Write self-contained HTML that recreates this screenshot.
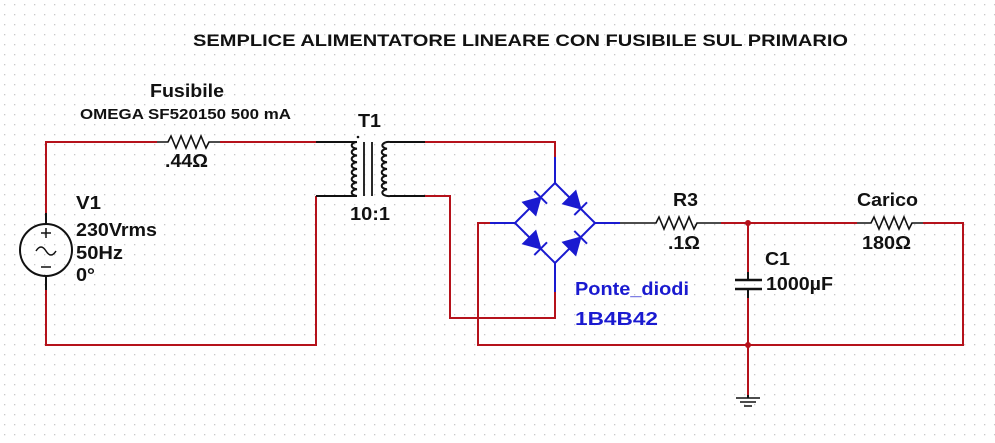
<!DOCTYPE html>
<html><head><meta charset="utf-8"><style>
html,body{margin:0;padding:0;background:#fff}
svg{display:block}
text{font-family:"Liberation Sans",Arial,sans-serif;font-weight:bold;fill:#111}
</style></head><body>
<svg width="995" height="443" viewBox="0 0 995 443" xmlns="http://www.w3.org/2000/svg">
<defs><pattern id="g" width="10" height="10" patternUnits="userSpaceOnUse"><rect x="4" y="4" width="1.3" height="1.3" fill="#c8c8c8"/></pattern>
<g id="d"><polygon points="-8,-9 -8,9 8,0" fill="#1a1ad0" stroke="#1a1ad0" stroke-width="1.5"/><line x1="8" y1="-9" x2="8" y2="9" stroke="#1a1ad0" stroke-width="2"/></g>
</defs>
<rect width="995" height="443" fill="#fff"/>
<rect width="995" height="443" fill="url(#g)"/>
<text x="193" y="46" font-size="17" textLength="655" lengthAdjust="spacingAndGlyphs">SEMPLICE ALIMENTATORE LINEARE CON FUSIBILE SUL PRIMARIO</text>
<g fill="none" stroke-width="2" stroke-linejoin="miter">
<polyline points="46,213 46,142 157,142" stroke="#b5121b"/>
<polyline points="220,142 316,142" stroke="#b5121b"/>
<polyline points="46,290 46,345 316,345 316,196" stroke="#b5121b"/>
<polyline points="425,142 555,142 555,157" stroke="#b5121b"/>
<polyline points="425,196 450,196 450,318 555,318 555,292" stroke="#b5121b"/>
<polyline points="490,223 478,223 478,345 963,345 963,223 923,223" stroke="#b5121b"/>
<polyline points="721,223 857,223" stroke="#b5121b"/>
<line x1="748" y1="223" x2="748" y2="272" stroke="#b5121b"/>
<line x1="748" y1="290" x2="748" y2="395" stroke="#b5121b"/>
<polyline points="46,213 46,224" stroke="#111"/>
<polyline points="46,276 46,290" stroke="#111"/>
<polyline points="157,142 168,142 171,136 176,148 181,136 186,148 191,136 196,148 201,136 206,148 209,142 220,142" stroke="#111" stroke-width="1.6"/>
<polyline points="316,142 357,142" stroke="#111"/>
<polyline points="316,196 357,196" stroke="#111"/>
<polyline points="390,142 425,142" stroke="#111"/>
<polyline points="390,196 425,196" stroke="#111"/>
<polyline points="620,223 656,223 659,217 664,229 669,217 674,229 679,217 684,229 689,217 694,229 697,223 721,223" stroke="#111" stroke-width="1.6"/>
<polyline points="857,223 871,223 874,217 879,229 884,217 889,229 894,217 899,229 904,217 909,229 912,223 923,223" stroke="#111" stroke-width="1.6"/>
<line x1="748" y1="272" x2="748" y2="280" stroke="#111"/>
<line x1="748" y1="290" x2="748" y2="298" stroke="#111"/>
<line x1="735" y1="280" x2="762" y2="280" stroke="#111" stroke-width="2.5"/>
<line x1="735" y1="289" x2="762" y2="289" stroke="#111" stroke-width="2.5"/>
<line x1="748" y1="395" x2="748" y2="398" stroke="#111"/>
<line x1="736" y1="398" x2="760" y2="398" stroke="#111" stroke-width="1.5"/>
<line x1="740" y1="402" x2="756" y2="402" stroke="#111" stroke-width="1.5"/>
<line x1="744" y1="406" x2="752" y2="406" stroke="#111" stroke-width="1.5"/>
<circle cx="46" cy="250" r="26" stroke="#111"/>
<path d="M36,251 q5,-8 10,0 q5,8 10,0" stroke="#111" stroke-width="1.5"/>
<line x1="41" y1="233" x2="51" y2="233" stroke="#111" stroke-width="1.5"/>
<line x1="46" y1="228" x2="46" y2="238" stroke="#111" stroke-width="1.5"/>
<line x1="41" y1="267" x2="51" y2="267" stroke="#111" stroke-width="1.5"/>
<path d="M357,142 a6,3.4 0 0 0 0,6.75 a6,3.4 0 0 0 0,6.75 a6,3.4 0 0 0 0,6.75 a6,3.4 0 0 0 0,6.75 a6,3.4 0 0 0 0,6.75 a6,3.4 0 0 0 0,6.75 a6,3.4 0 0 0 0,6.75 a6,3.4 0 0 0 0,6.75" stroke="#111" stroke-width="2"/>
<line x1="364" y1="142" x2="364" y2="196" stroke="#111" stroke-width="1.8"/>
<line x1="372" y1="142" x2="372" y2="196" stroke="#111" stroke-width="1.8"/>
<path d="M390,142 a6,3.4 0 0 0 -3,6.75 a6,3.4 0 0 0 0,6.75 a6,3.4 0 0 0 0,6.75 a6,3.4 0 0 0 0,6.75 a6,3.4 0 0 0 0,6.75 a6,3.4 0 0 0 0,6.75 a6,3.4 0 0 0 0,6.75 a6,3.4 0 0 0 3,6.75" stroke="#111" stroke-width="2"/>
<g stroke="#1a1ad0">
<polyline points="555,157 555,183 515,223 555,263 595,223 555,183"/>
<line x1="555" y1="263" x2="555" y2="292"/>
<line x1="490" y1="223" x2="515" y2="223"/>
<line x1="595" y1="223" x2="620" y2="223"/>
</g>
</g>
<use href="#d" transform="translate(535,203) rotate(-45)"/>
<use href="#d" transform="translate(575,203) rotate(45)"/>
<use href="#d" transform="translate(535,243) rotate(45)"/>
<use href="#d" transform="translate(575,243) rotate(-45)"/>
<circle cx="748" cy="223" r="3" fill="#b5121b"/>
<circle cx="748" cy="345" r="3" fill="#b5121b"/>
<circle cx="358" cy="137" r="1.3" fill="#111"/>
<text x="150" y="97" font-size="18" textLength="74" lengthAdjust="spacingAndGlyphs">Fusibile</text>
<text x="80" y="119" font-size="15" textLength="211" lengthAdjust="spacingAndGlyphs">OMEGA SF520150 500 mA</text>
<text x="165" y="167" font-size="18" textLength="43" lengthAdjust="spacingAndGlyphs">.44Ω</text>
<text x="358" y="127" font-size="18" textLength="23" lengthAdjust="spacingAndGlyphs">T1</text>
<text x="350" y="220" font-size="18" textLength="40" lengthAdjust="spacingAndGlyphs">10:1</text>
<text x="76" y="209" font-size="18" textLength="25" lengthAdjust="spacingAndGlyphs">V1</text>
<text x="76" y="236" font-size="18" textLength="81" lengthAdjust="spacingAndGlyphs">230Vrms</text>
<text x="76" y="259" font-size="18" textLength="47" lengthAdjust="spacingAndGlyphs">50Hz</text>
<text x="76" y="281" font-size="18" textLength="19" lengthAdjust="spacingAndGlyphs">0°</text>
<text x="673" y="206" font-size="18" textLength="25" lengthAdjust="spacingAndGlyphs">R3</text>
<text x="668" y="249" font-size="18" textLength="32" lengthAdjust="spacingAndGlyphs">.1Ω</text>
<text x="857" y="206" font-size="18" textLength="61" lengthAdjust="spacingAndGlyphs">Carico</text>
<text x="862" y="249" font-size="18" textLength="49" lengthAdjust="spacingAndGlyphs">180Ω</text>
<text x="765" y="265" font-size="18" textLength="25" lengthAdjust="spacingAndGlyphs">C1</text>
<text x="766" y="290" font-size="18" textLength="67" lengthAdjust="spacingAndGlyphs">1000µF</text>
<text x="575" y="295" font-size="18" textLength="114" lengthAdjust="spacingAndGlyphs" style="fill:#1a1ad0">Ponte_diodi</text>
<text x="575" y="325" font-size="18" textLength="83" lengthAdjust="spacingAndGlyphs" style="fill:#1a1ad0">1B4B42</text>
</svg>
</body></html>
